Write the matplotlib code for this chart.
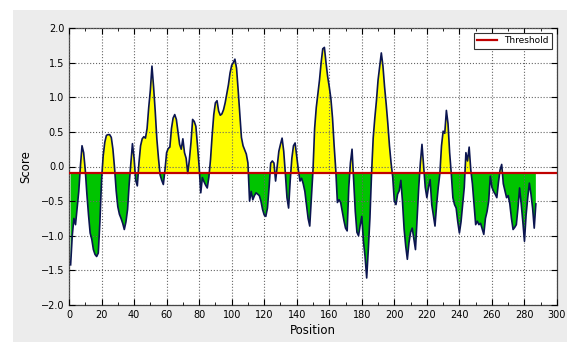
import matplotlib
matplotlib.use("Agg")
import matplotlib.pyplot as plt
import numpy as np
from matplotlib.patches import Rectangle
from matplotlib.ticker import MultipleLocator

# residue positions and predicted score
positions = np.arange(1, 288)
scores = np.array([
    -1.42, -1.0, -0.75, -0.84, -0.6, -0.36, 0.0, 0.3, 0.2, -0.05,
    -0.4, -0.7, -0.96, -1.05, -1.2, -1.27, -1.3, -1.25, -0.8, -0.2,
    0.15, 0.35, 0.45, 0.46, 0.46, 0.42, 0.25, -0.02, -0.35, -0.58,
    -0.69, -0.75, -0.82, -0.91, -0.8, -0.62, -0.25, 0.05, 0.33, 0.12,
    -0.2, -0.28, 0.05, 0.3, 0.4, 0.43, 0.41, 0.55, 0.85, 1.1,
    1.45, 1.15, 0.8, 0.4, 0.12, -0.12, -0.2, -0.26, -0.05, 0.2,
    0.26, 0.28, 0.55, 0.7, 0.75, 0.68, 0.5, 0.32, 0.25, 0.4,
    0.2, 0.12, -0.1, 0.1, 0.35, 0.68, 0.65, 0.58, 0.3, 0.0,
    -0.38, -0.16, -0.22, -0.27, -0.31, -0.15, 0.1, 0.45, 0.75, 0.92,
    0.95, 0.8, 0.74, 0.76, 0.82, 0.92, 1.05, 1.18, 1.35, 1.46,
    1.5, 1.55, 1.42, 1.1, 0.75, 0.42, 0.3, 0.24, 0.18, 0.05,
    -0.5, -0.36, -0.48, -0.42, -0.38, -0.4, -0.42, -0.5, -0.62, -0.7,
    -0.72, -0.6, -0.3, 0.05, 0.08, 0.05, -0.21, 0.0, 0.22, 0.32,
    0.41, 0.22, -0.1, -0.45, -0.6, -0.2, 0.12, 0.3, 0.34, 0.15,
    -0.05, -0.21, -0.17, -0.25, -0.36, -0.55, -0.75, -0.86, -0.45, -0.05,
    0.55, 0.85, 1.05, 1.25, 1.5, 1.7, 1.72, 1.5, 1.3, 1.15,
    0.98, 0.7, 0.3, -0.05, -0.52, -0.48, -0.52, -0.65, -0.78, -0.89,
    -0.93, -0.3, 0.05, 0.25, -0.2, -0.65, -0.95, -1.0, -0.85, -0.72,
    -1.08, -1.3, -1.61, -1.2, -0.74, -0.1, 0.41, 0.7, 0.95, 1.25,
    1.45, 1.64, 1.45, 1.15, 0.9, 0.62, 0.3, 0.05, -0.15, -0.5,
    -0.55, -0.4, -0.35, -0.2, -0.5, -0.9, -1.15, -1.34, -1.1, -0.95,
    -0.89, -1.05, -1.2, -0.75, -0.3, 0.05, 0.32, 0.0, -0.3, -0.45,
    -0.3, -0.19, -0.55, -0.7, -0.86, -0.55, -0.3, -0.1, 0.3, 0.51,
    0.48, 0.81, 0.62, 0.2, -0.1, -0.45, -0.55, -0.6, -0.8, -0.96,
    -0.8, -0.55, -0.3, 0.2, 0.08, 0.28, -0.05, -0.25, -0.55, -0.84,
    -0.79, -0.84, -0.82, -0.9, -0.98, -0.75, -0.65, -0.5, -0.14, -0.3,
    -0.36, -0.4, -0.45, -0.23, -0.05, 0.03, -0.25, -0.35, -0.45, -0.42,
    -0.54, -0.75, -0.91, -0.88, -0.84, -0.6, -0.31, -0.54, -0.8, -1.08,
    -0.7, -0.45, -0.24, -0.4, -0.6, -0.89, -0.54,
])
threshold = -0.09

fig = plt.figure(figsize=(5.67, 3.42), dpi=100, facecolor="white")
# grey panel behind the plot, like the original screenshot
fig.patches.append(Rectangle((13 / 567, -0.1), 1.1, 1.1 - 10 / 342, transform=fig.transFigure,
                             facecolor="#ececec", edgecolor="none", zorder=-5))
ax = fig.add_axes([69 / 567, 37 / 342, 488 / 567, 277 / 342])
ax.set_facecolor("white")

ax.fill_between(positions, scores, threshold, where=scores >= threshold,
                interpolate=True, color="#ffff00", linewidth=0, zorder=2)
ax.fill_between(positions, scores, threshold, where=scores <= threshold,
                interpolate=True, color="#00c400", linewidth=0, zorder=2)
ax.plot(positions, scores, color="#0b1550", linewidth=1.2, zorder=3)
ax.axhline(threshold, color="#c00000", linewidth=1.6, zorder=4, label="Threshold")

ax.set_xlim(0, 300)
ax.set_ylim(-2.0, 2.0)
ax.xaxis.set_major_locator(MultipleLocator(20))
ax.xaxis.set_minor_locator(MultipleLocator(10))
ax.yaxis.set_major_locator(MultipleLocator(0.5))
ax.tick_params(which="both", direction="in", top=True, right=True, labelsize=7)
ax.tick_params(which="major", length=4)
ax.tick_params(which="minor", length=2)
# grid sits over the fills but under the score line
ax.grid(True, which="major", linestyle=":", color="#666666", linewidth=0.8, zorder=2.5)
ax.set_axisbelow(False)
for s in ax.spines.values():
    s.set_color("#444444")
    s.set_linewidth(0.9)

ax.set_xlabel("Position", fontsize=8.5, labelpad=3)
ax.set_ylabel("Score", fontsize=8.5, labelpad=6)

leg = ax.legend(loc="upper right", fontsize=6.5, fancybox=False, framealpha=1,
                edgecolor="#333333", handlelength=2.2, borderaxespad=0.5)
leg.get_frame().set_linewidth(0.8)
leg.set_zorder(10)

fig.savefig("out.png", dpi=100, facecolor=fig.get_facecolor())
